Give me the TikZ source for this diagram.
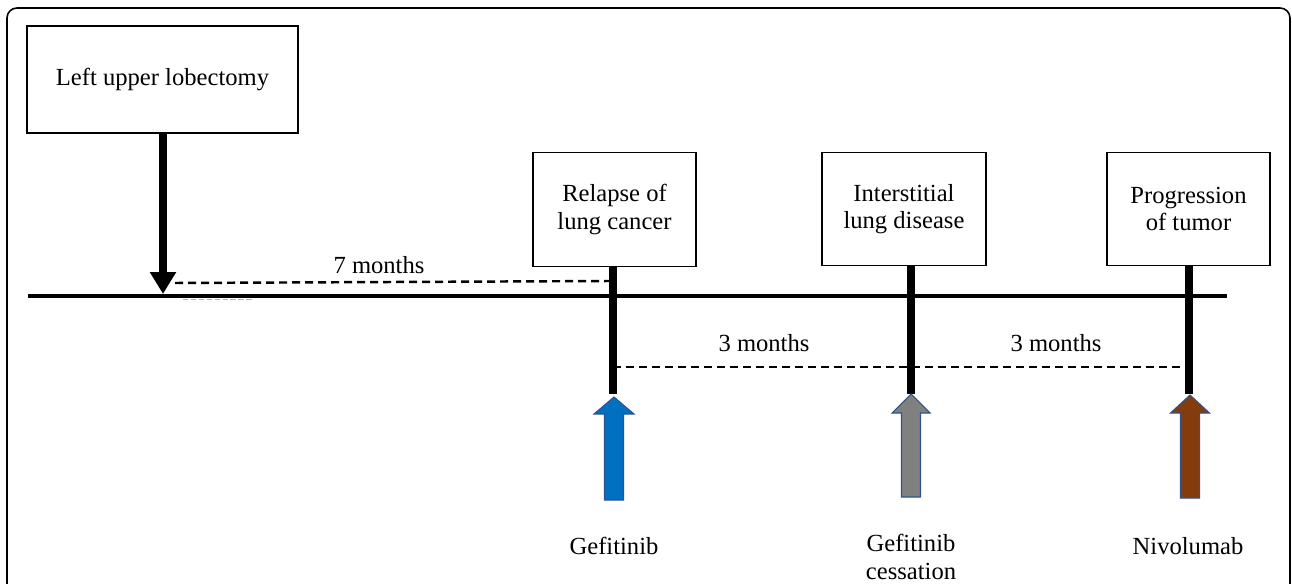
\documentclass[tikz,border=0pt]{standalone}
\usepackage{fontspec}
\setmainfont{Liberation Serif}
\definecolor{gefblue}{RGB}{0, 112, 192}
\definecolor{stopgray}{RGB}{128, 128, 128}
\definecolor{nivobrown}{RGB}{132, 60, 12}
\definecolor{edgeblue}{RGB}{47, 82, 143}
\usepackage{tikz}
\usetikzlibrary{arrows.meta, positioning, calc}

\begin{document}
\begin{tikzpicture}[x=0.02cm, y=-0.02cm,
    event/.style={draw, line width=0.8pt, align=center, minimum height=2.27cm,
      font=\fontsize{14}{15.5}\selectfont},
    tag/.style={align=center, font=\fontsize{14}{15.5}\selectfont},
    stem/.style={line width=4.3pt},
    gap/.style={line width=1.4pt, dash pattern=on 4.6pt off 2.8pt},
    drug/.style={draw=edgeblue, line width=0.6pt}]
  \useasboundingbox (0, 0) rectangle (1292, 584);

  % Frame
  \draw[line width=0.9pt, rounded corners=0.2cm] (7, 590) -- (7, 8) -- (1290, 8) -- (1290, 590);

  % Timeline
  \coordinate (t0) at (28, 296);
  \coordinate (t5) at (1227, 296);
  \draw[line width=2.2pt] (t0) -- (t5);
  \draw[gray!60, line width=0.6pt, dash pattern=on 3pt off 1.5pt] (183, 299.5) -- (253, 299.5);

  % Surgery
  \node[event, minimum width=5.42cm, minimum height=2.14cm] (surgery) at (162.5, 79.5) {Left upper lobectomy};
  \coordinate (t1) at (163, 294);
  \draw[line width=4.4pt, -{Triangle[length=0.44cm, width=0.5cm]}] (surgery.south -| t1) -- (t1);

  % Events on the timeline
  \node[event, minimum width=3.26cm] (relapse) at (614.5, 209.5) {Relapse of\\lung cancer};
  \node[event, minimum width=3.28cm] (ild) at (904, 209) {Interstitial\\lung disease};
  \node[event, minimum width=3.26cm] (progress) at (1188.5, 209) {Progression\\of tumor};
  \coordinate (t2) at (613, 394);
  \coordinate (t3) at (911, 394);
  \coordinate (t4) at (1189, 394);
  \draw[stem] (relapse.south -| t2) -- (t2);
  \draw[stem] (ild.south -| t3) -- (t3);
  \draw[stem] (progress.south -| t4) -- (t4);

  % Intervals
  \coordinate (g1) at (175, 283);
  \coordinate (g2) at (610, 281);
  \draw[gap] (g1) -- (g2);
  \node[tag] (m7) at (379, 265) {7 months};
  \draw[gap] ($(t2)+(0, -27)$) -- ($(t4)+(0, -27)$);
  \node[tag] (m3a) at (764, 343) {3 months};
  \node[tag] (m3b) at (1056, 343) {3 months};

  % Treatments
  \draw[drug, fill=gefblue, shift={(614, 0)}]
    (-9.5, 500) -- (-9.5, 414) -- (-20, 414) -- (0, 397) -- (20, 414) -- (9.5, 414) -- (9.5, 500) -- cycle;
  \draw[drug, fill=stopgray, shift={(911, 0)}]
    (-9.5, 497) -- (-9.5, 413) -- (-19, 413) -- (0, 394) -- (19, 413) -- (9.5, 413) -- (9.5, 497) -- cycle;
  \draw[drug, fill=nivobrown, shift={(1190, 0)}]
    (-9.5, 498) -- (-9.5, 413) -- (-19.5, 413) -- (0, 395) -- (19.5, 413) -- (9.5, 413) -- (9.5, 498) -- cycle;
  \node[tag] (gef) at (614, 546) {Gefitinib};
  \node[tag] (stop) at (911, 557) {Gefitinib\\cessation};
  \node[tag] (nivo) at (1188, 546) {Nivolumab};
\end{tikzpicture}
\end{document}
